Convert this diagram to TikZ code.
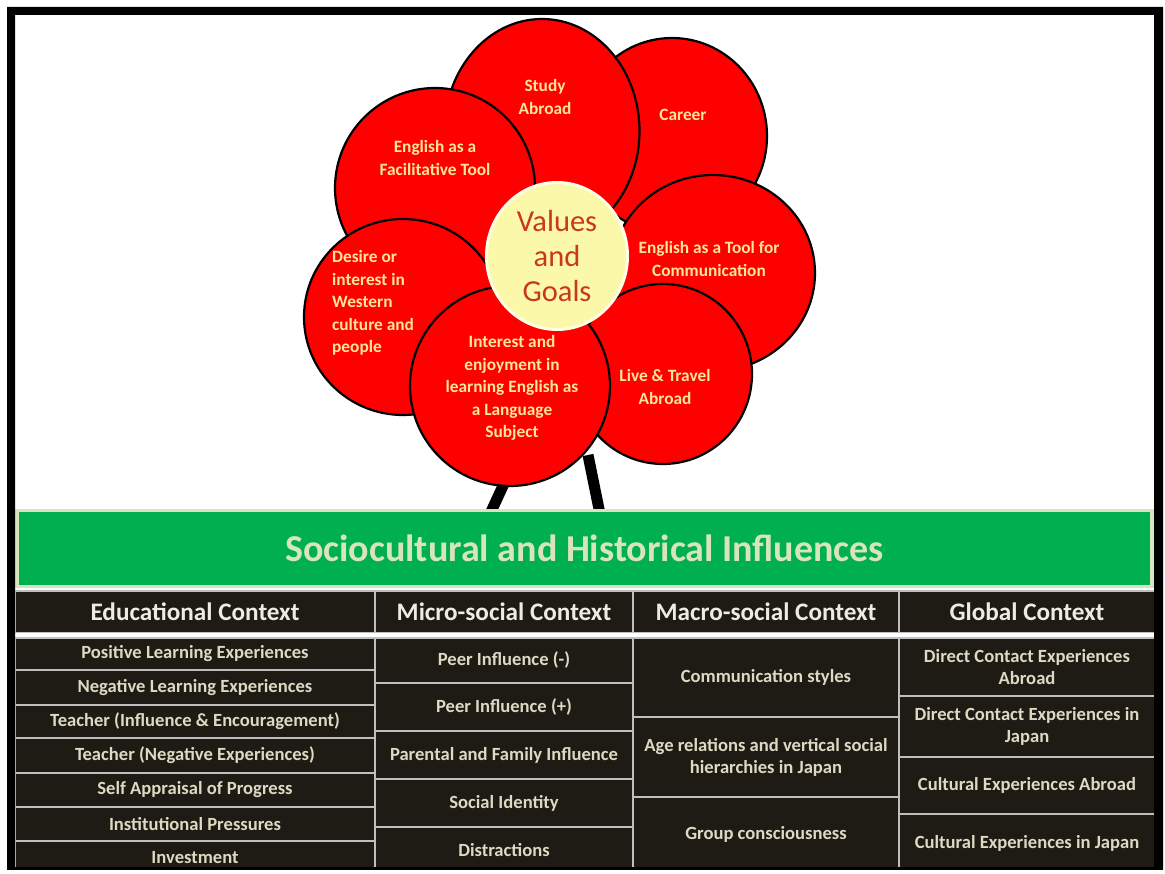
\documentclass[tikz,border=0pt]{standalone}
\usepackage{fontspec}
\setmainfont{Carlito}
\usetikzlibrary{shapes.geometric}

\definecolor{petalred}{HTML}{FF0000}
\definecolor{petaltext}{HTML}{FFE699}
\definecolor{heartfill}{HTML}{FBF8AA}
\definecolor{heartrim}{HTML}{FFFFE6}
\definecolor{hearttext}{HTML}{C8381E}
\definecolor{bannergreen}{HTML}{00B050}
\definecolor{bannerpale}{HTML}{D7E4BD}
\definecolor{celldark}{HTML}{1E1B14}
\definecolor{celltext}{HTML}{DDD9C3}
\definecolor{headtext}{HTML}{EEECE1}
\definecolor{gridgray}{HTML}{BFBFBF}

\tikzset{
  petal/.style={ellipse, draw=black, line width=2.2pt, fill=petalred, inner sep=0pt},
  petallabel/.style={text=petaltext, font=\fontsize{17.3}{22.5}\selectfont\bfseries, align=center, inner sep=0pt},
  heart/.style={ellipse, draw=heartrim, line width=3pt, fill=heartfill, inner sep=0pt},
  stemline/.style={line width=11pt, black},
  cellbox/.style={rectangle, draw=gridgray, line width=1.6pt, fill=celldark, inner sep=0pt, outer sep=0pt,
    text=celltext, font=\fontsize{18.6}{22}\selectfont\bfseries, align=center},
  headbox/.style={cellbox, text=headtext, font=\fontsize{25.2}{28}\selectfont\bfseries},
}

% cell: name, x1, y1, x2, y2, text
\newcommand{\tcell}[6]{%
  \node[cellbox, minimum width={#4pt-#2pt}, minimum height={#5pt-#3pt}] (#1) at ({(#2+#4)/2},{(#3+#5)/2}) {#6};}
\newcommand{\hcell}[6]{%
  \node[headbox, minimum width={#4pt-#2pt}, minimum height={#5pt-#3pt}] (#1) at ({(#2+#4)/2},{(#3+#5)/2}) {#6};}

\begin{document}
\begin{tikzpicture}[x=1pt, y=-1pt]
\useasboundingbox (0,0) rectangle (1165,874);
\fill[white] (0,0) rectangle (1165,874);

% stems of the flower
\coordinate (stemLtop) at (514,462);
\coordinate (stemLbot) at (490,514);
\coordinate (stemRtop) at (588,455);
\coordinate (stemRbot) at (600,514);
\draw[stemline] (stemLtop) -- (stemLbot);
\draw[stemline] (stemRtop) -- (stemRbot);

% petals, back to front
\node[petal, minimum width=190pt, minimum height=196pt] (career) at (672,136) {};
\node[petal, minimum width=195pt, minimum height=224pt] (study) at (542,131) {};
\node[petal, minimum width=200pt, minimum height=200pt] (facil) at (435,188) {};
\node[petal, minimum width=204pt, minimum height=196pt] (commtool) at (713,273) {};
\node[petal, minimum width=198pt, minimum height=196pt] (desire) at (403,317) {};
\node[petal, minimum width=178pt, minimum height=180pt] (travel) at (663,374) {};
\node[petal, minimum width=200pt, minimum height=200pt] (enjoy) at (510,386) {};

% centre of the flower
\node[heart, minimum width=141pt, minimum height=147pt] (core) at (557,256) {};
\node[text=hearttext, font=\fontsize{30.5}{35}\selectfont, align=center, inner sep=0pt] (coretext) at (557,256) {Values\\and\\Goals};

% petal labels
\node[petallabel] (studyText) at (545,97) {Study\\Abroad};
\node[petallabel] (careerText) at (683,115) {Career};
\node[petallabel] (facilText) at (435,158) {English as a\\Facilitative Tool};
\node[petallabel] (commText) at (709,259) {English as a Tool for\\Communication};
\node[petallabel, align=left, anchor=west] (desireText) at (332,303) {Desire or\\interest in\\Western\\culture and\\people};
\node[petallabel] (enjoyText) at (512,388) {Interest and\\enjoyment in\\learning English as\\a Language\\Subject};
\node[petallabel] (travelText) at (665,387) {Live \& Travel\\Abroad};

% banner
\node[rectangle, draw=bannerpale, line width=3.5pt, fill=bannergreen, inner sep=0pt,
  minimum width=1135pt, minimum height=76pt, text=bannerpale,
  font=\fontsize{38}{42}\selectfont\bfseries] (banner) at (584.5,548.5) {Sociocultural and Historical Influences};

% header row
\hcell{headEdu}{15}{591}{375}{633}{Educational Context}
\hcell{headMicro}{375}{591}{633}{633}{Micro-social Context}
\hcell{headMacro}{633}{591}{899}{633}{Macro-social Context}
\hcell{headGlobal}{899}{591}{1155}{633}{Global Context}
\fill[white] (15,633) rectangle (1155,638);

% educational context
\tcell{edu1}{15}{638}{375}{670}{Positive Learning Experiences}
\tcell{edu2}{15}{670}{375}{705}{Negative Learning Experiences}
\tcell{edu3}{15}{705}{375}{738}{Teacher (Influence \& Encouragement)}
\tcell{edu4}{15}{738}{375}{773}{Teacher (Negative Experiences)}
\tcell{edu5}{15}{773}{375}{807}{Self Appraisal of Progress}
\tcell{edu6}{15}{807}{375}{841}{Institutional Pressures}
\tcell{edu7}{15}{841}{375}{874}{Investment}

% micro-social context
\tcell{micro1}{375}{638}{633}{683}{Peer Influence (-)}
\tcell{micro2}{375}{683}{633}{731}{Peer Influence (+)}
\tcell{micro3}{375}{731}{633}{779}{Parental and Family Influence}
\tcell{micro4}{375}{779}{633}{827}{Social Identity}
\tcell{micro5}{375}{827}{633}{874}{Distractions}

% macro-social context
\tcell{macro1}{633}{638}{899}{717}{Communication styles}
\tcell{macro2}{633}{717}{899}{797}{Age relations and vertical social\\hierarchies in Japan}
\tcell{macro3}{633}{797}{899}{872}{Group consciousness}

% global context
\tcell{global1}{899}{638}{1155}{696}{Direct Contact Experiences\\Abroad}
\tcell{global2}{899}{696}{1155}{757}{Direct Contact Experiences in\\Japan}
\tcell{global3}{899}{757}{1155}{814}{Cultural Experiences Abroad}
\tcell{global4}{899}{814}{1155}{872}{Cultural Experiences in Japan}

% outer frame
\fill[black, even odd rule] (7,7) rectangle (1163,870) (15,15) rectangle (1154,867);
\fill[white] (0,870) rectangle (1165,874);
\end{tikzpicture}
\end{document}
